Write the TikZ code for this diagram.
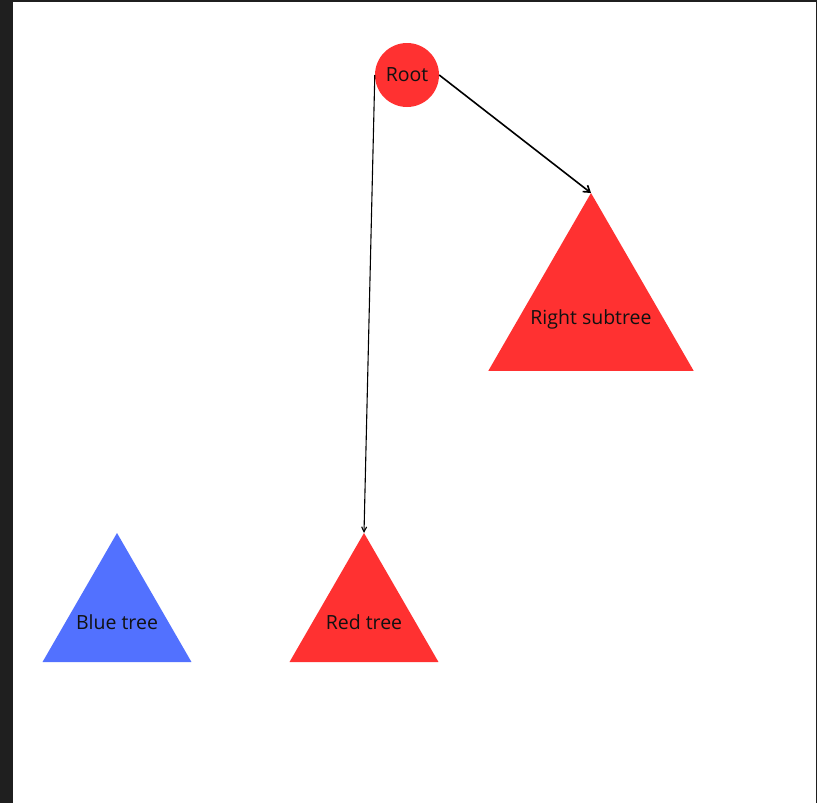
\documentclass[tikz,border=0pt]{standalone}
\usepackage{fontspec}
\setmainfont{Open Sans}
\usetikzlibrary{arrows.meta,shapes.geometric}
\definecolor{TreeRed}{HTML}{FF3131}
\definecolor{TreeBlue}{HTML}{5271FF}
\definecolor{FrameInk}{HTML}{1F1F1F}
\definecolor{LabelInk}{HTML}{111111}

\begin{document}
\begin{tikzpicture}[
    x=1pt, y=-1pt,
    font=\fontsize{19.5}{22}\selectfont,
    rootnode/.style={
        circle,
        fill=TreeRed,
        minimum size=64pt,
        inner sep=0pt,
        text=LabelInk
    },
    tree/.style={
        regular polygon,
        regular polygon sides=3,
        inner sep=0pt,
        outer sep=0pt,
        text=LabelInk
    },
    link/.style={
        -{Straight Barb[length=6pt,width=8pt]},
        line width=1.6pt,
        draw=black
    },
    thin link/.style={
        -{Straight Barb[length=5pt,width=5pt]},
        line width=1.1pt,
        draw=black
    }
]
    % screenshot frame
    \fill[FrameInk] (0,0) rectangle (817,803);
    \fill[white] (13,1.5) rectangle (815.5,803);
    \useasboundingbox (0,0) rectangle (817,803);

    \node[rootnode] (root) at (407,75) {Root};
    \node[tree, fill=TreeRed, minimum size=237pt] (right) at (591,311.5)
        {\raisebox{-12.5pt}[0pt][0pt]{\makebox[0pt]{Right subtree}}};
    \node[tree, fill=TreeRed, minimum size=172pt] (red) at (364,619)
        {\raisebox{-10pt}[0pt][0pt]{\makebox[0pt]{Red tree}}};
    \node[tree, fill=TreeBlue, minimum size=172pt] (blue) at (117,619)
        {\raisebox{-10pt}[0pt][0pt]{\makebox[0pt]{Blue tree}}};

    \draw[link] (root.east) -- (right.corner 1);
    \draw[thin link] (root.west) -- (red.corner 1);
\end{tikzpicture}
\end{document}
